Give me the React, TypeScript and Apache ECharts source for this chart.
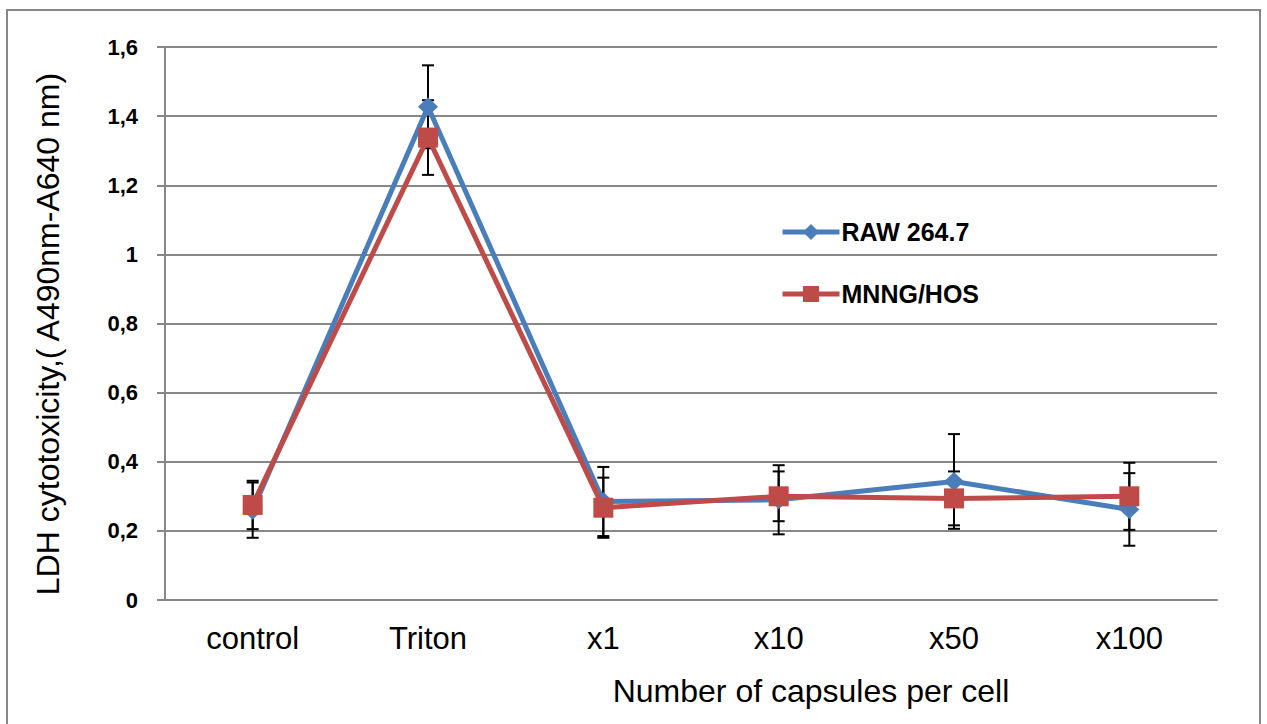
import React, { useEffect, useRef } from "react";
import * as echarts from "echarts";

// Categories along the x axis
const categories = ["control", "Triton", "x1", "x10", "x50", "x100"];

// RAW 264.7 mean absorbance and error
const rawValues = [0.26, 1.427, 0.285, 0.29, 0.343, 0.262];
const rawErrors = [0.08, 0.12, 0.1, 0.1, 0.137, 0.105];

// MNNG/HOS mean absorbance and error
const mnngValues = [0.275, 1.338, 0.267, 0.3, 0.294, 0.3];
const mnngErrors = [0.07, 0.108, 0.087, 0.072, 0.078, 0.097];

const yTicks = { min: 0, max: 1.6, interval: 0.2 };

const seriesNames = ["RAW 264.7", "MNNG/HOS"];
const xTitle = "Number of capsules per cell";
const yTitle = "LDH cytotoxicity,( A490nm-A640 nm)";

const BLUE = "#4a7ebb";
const RED = "#be4b48";
const GRID = "#878787";

function errorData(values: number[], errors: number[]) {
  return values.map((v, i) => [i, v - errors[i], v + errors[i]]);
}

function errorSeries(values: number[], errors: number[]) {
  return {
    type: "custom",
    z: 1,
    silent: true,
    data: errorData(values, errors),
    renderItem: (_params: any, api: any) => {
      const x = api.coord([api.value(0), api.value(1)])[0];
      const lo = api.coord([api.value(0), api.value(1)])[1];
      const hi = api.coord([api.value(0), api.value(2)])[1];
      const half = 6;
      const style = { stroke: "#000", lineWidth: 2 };
      return {
        type: "group",
        children: [
          { type: "line", shape: { x1: x, y1: lo, x2: x, y2: hi }, style },
          { type: "line", shape: { x1: x - half, y1: lo, x2: x + half, y2: lo }, style },
          { type: "line", shape: { x1: x - half, y1: hi, x2: x + half, y2: hi }, style },
        ],
      };
    },
  };
}

export default function App() {
  const ref = useRef<HTMLDivElement>(null);

  useEffect(() => {
    if (!ref.current) return;
    const chart = echarts.init(ref.current, undefined, { renderer: "svg" });
    const sans = "'Liberation Sans', Arial, sans-serif";
    chart.setOption({
      animation: false,
      backgroundColor: "#fff",
      grid: { left: 165, top: 47, right: 50, bottom: 124 },
      legend: {
        data: [
          { name: seriesNames[0], lineStyle: { width: 5, color: BLUE } },
          { name: seriesNames[1], lineStyle: { width: 5, color: RED } },
        ],
        orient: "vertical",
        left: 775,
        top: 212,
        itemWidth: 57,
        itemHeight: 20,
        itemGap: 32,
        textStyle: {
          fontFamily: sans,
          fontWeight: "bold",
          fontSize: 25,
          color: "#000",
          lineHeight: 30,
          padding: [0, 0, 0, -3],
        },
      },
      xAxis: {
        type: "category",
        data: categories,
        boundaryGap: true,
        axisLine: { lineStyle: { color: GRID, width: 2 } },
        axisTick: { length: 9, lineStyle: { color: GRID, width: 2 } },
        axisLabel: { color: "#000", fontSize: 31, fontFamily: sans, margin: 23 },
      },
      yAxis: {
        type: "value",
        min: yTicks.min,
        max: yTicks.max,
        interval: yTicks.interval,
        axisLine: { show: true, lineStyle: { color: GRID, width: 2 } },
        axisTick: { show: true, length: 8, lineStyle: { color: GRID, width: 2 } },
        splitLine: { lineStyle: { color: GRID, width: 2 } },
        axisLabel: {
          color: "#000",
          fontSize: 22,
          fontWeight: "bold",
          fontFamily: sans,
          margin: 27,
          formatter: (v: number) => String(Math.round(v * 10) / 10).replace(".", ","),
        },
      },
      graphic: [
        {
          type: "rect",
          shape: { x: 7, y: 10, width: 1253, height: 740 },
          style: { fill: "none", stroke: GRID, lineWidth: 2 },
          silent: true,
        },
        {
          type: "text",
          x: 48,
          y: 334,
          rotation: Math.PI / 2,
          style: {
            text: yTitle,
            fontSize: 32,
            fontFamily: sans,
            fill: "#000",
            align: "center",
            verticalAlign: "middle",
          },
        },
        {
          type: "text",
          x: 811,
          y: 691,
          style: {
            text: xTitle,
            fontSize: 32,
            fontFamily: sans,
            fill: "#000",
            align: "center",
            verticalAlign: "middle",
          },
        },
      ],
      series: [
        errorSeries(rawValues, rawErrors),
        errorSeries(mnngValues, mnngErrors),
        {
          name: seriesNames[0],
          type: "line",
          z: 3,
          data: rawValues,
          color: BLUE,
          symbol: "diamond",
          symbolSize: [20, 19],
          lineStyle: { width: 5, color: BLUE },
          itemStyle: { color: BLUE },
        },
        {
          name: seriesNames[1],
          type: "line",
          z: 4,
          data: mnngValues,
          color: RED,
          symbol: "rect",
          symbolSize: 20,
          lineStyle: { width: 5, color: RED },
          itemStyle: { color: RED },
        },
      ],
    });
    return () => chart.dispose();
  }, []);

  return (
    <div
      ref={ref}
      style={{ position: "absolute", left: 0, top: 0, width: 1267, height: 724 }}
    />
  );
}
